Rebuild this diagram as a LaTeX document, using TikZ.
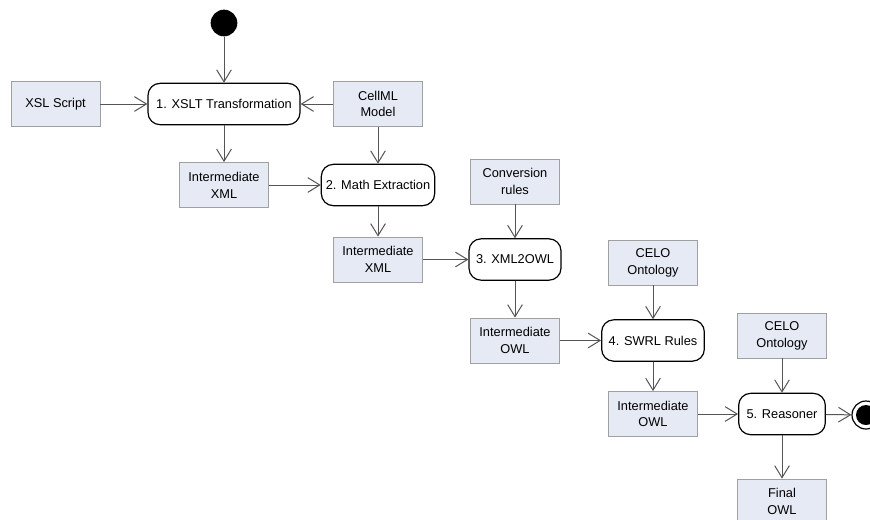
\documentclass[tikz,border=0pt]{standalone}
\usepackage{fontspec}
\setmainfont{Liberation Sans}
\usetikzlibrary{arrows.meta}
\definecolor{boxfill}{HTML}{E6EAF4}
\definecolor{boxline}{HTML}{A0A0A0}
\definecolor{flowline}{HTML}{555555}
\begin{document}
\begin{tikzpicture}
  [x=0.75pt,y=-0.75pt,every node/.style={font=\fontsize{9.6}{12.6}\selectfont,align=center}]
  \tikzstyle{data} = [draw=boxline,fill=boxfill,line width=0.6pt,minimum width=66.75pt,minimum height=33.75pt,inner sep=0pt]
  \tikzstyle{action} = [draw=black,fill=white,line width=0.9pt,rounded corners=9pt,minimum height=31pt,inner sep=0pt]
  \tikzstyle{flow} = [draw=flowline,line width=0.75pt,-{Straight Barb[length=9pt,width=11pt]}]
  \useasboundingbox (0,0) rectangle (870,519);
  % start and end
  \node[circle,fill=black,minimum size=20pt,inner sep=0pt] (start) at (224,23) {};
  \node[circle,draw=black,line width=0.9pt,minimum size=21pt,inner sep=0pt] (stop) at (866,415) {};
  \node[circle,fill=black,minimum size=15pt,inner sep=0pt] (stopin) at (866,415) {};
  % actions
  \node[action,minimum width=114pt] (a1) at (224,104)   {1. XSLT Transformation};
  \node[action,minimum width=85pt]  (a2) at (378,185)   {2. Math Extraction};
  \node[action,minimum width=69pt]  (a3) at (515,259.5) {3. XML2OWL};
  \node[action,minimum width=77pt]  (a4) at (653,340.5) {4. SWRL Rules};
  \node[action,minimum width=65pt]  (a5) at (782,414)   {5. Reasoner};
  % data
  \node[data] (xsl)    at (55.5,104)  {XSL Script};
  \node[data] (cellml) at (378,104)   {CellML\\Model};
  \node[data] (int1)   at (224,185)   {Intermediate\\XML};
  \node[data] (int2)   at (378,259.5) {Intermediate\\XML};
  \node[data] (conv)   at (515,181.5) {Conversion\\rules};
  \node[data] (owl1)   at (515,340.5) {Intermediate\\OWL};
  \node[data] (celo1)  at (653,262.5) {CELO\\Ontology};
  \node[data] (owl2)   at (653,414)   {Intermediate\\OWL};
  \node[data] (celo2)  at (782,335.5) {CELO\\Ontology};
  \node[data] (final)  at (782,501.5) {Final\\OWL};
  \foreach \source /\dest in {start/a1,xsl/a1,cellml/a1,a1/int1,cellml/a2,int1/a2,a2/int2,
      int2/a3,conv/a3,a3/owl1,owl1/a4,celo1/a4,a4/owl2,owl2/a5,celo2/a5,a5/final,a5/stop}
   \draw[flow] (\source) -- (\dest);
\end{tikzpicture}
\end{document}
